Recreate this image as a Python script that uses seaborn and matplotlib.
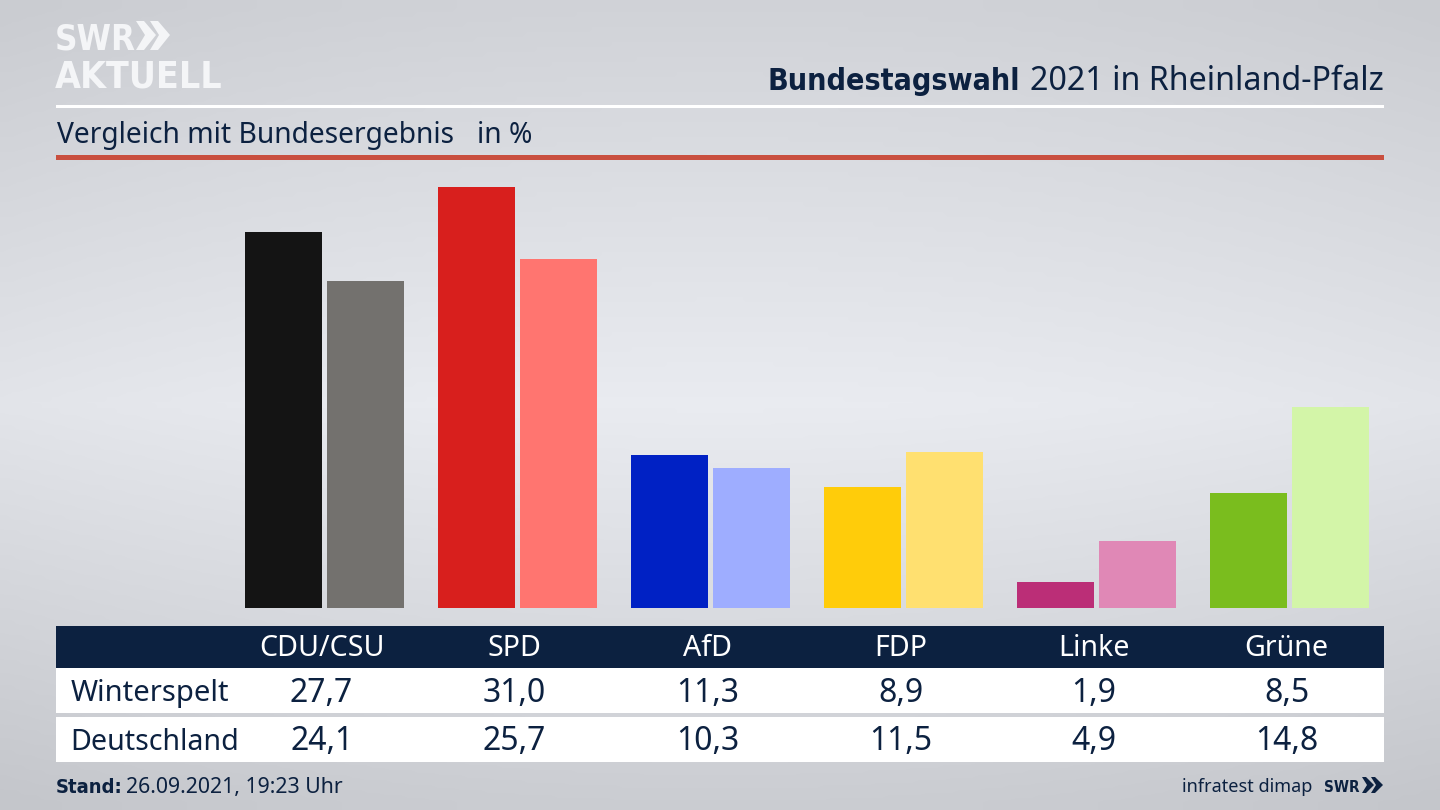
import numpy as np
import pandas as pd
import seaborn as sns
import matplotlib.pyplot as plt
from matplotlib.patches import Rectangle, Polygon
from matplotlib.transforms import blended_transform_factory

parties = ['CDU/CSU', 'SPD', 'AfD', 'FDP', 'Linke', 'Grüne']
winterspelt = [27.7, 31.0, 11.3, 8.9, 1.9, 8.5]
deutschland = [24.1, 25.7, 10.3, 11.5, 4.9, 14.8]
winterspelt_colors = ['#141414', '#d81f1d', '#0021c4', '#ffcc0a', '#bb2e77', '#7abd1e']
deutschland_colors = ['#73716e', '#ff7570', '#9eadff', '#ffe070', '#e088b6', '#d3f5a8']

NAVY = '#0c2140'
LOGO = '#f4f5f7'

sns.set_style('white')
plt.rcParams['font.family'] = ['Noto Sans', 'DejaVu Sans']

df = pd.DataFrame({
    'party': parties * 2,
    'gebiet': ['Winterspelt'] * 6 + ['Deutschland'] * 6,
    'wert': winterspelt + deutschland,
})

fig = plt.figure(figsize=(14.4, 8.1), dpi=100)

# background, works in pixels of the 1440x810 picture
bg = fig.add_axes([0, 0, 1, 1])

yy, xx = np.mgrid[0:1:162j, 0:1:288j]
vert = np.interp(yy, [0, 0.5, 1], [209, 234, 203])
side = 7 * np.abs(2 * xx - 1) ** 2
shade = vert - side
bg.imshow(np.dstack([shade, shade + 2, shade + 7]).clip(0, 255).astype(np.uint8),
          extent=(0, 1440, 810, 0), aspect='auto', interpolation='bicubic', zorder=0)
bg.set_xlim(0, 1440)
bg.set_ylim(810, 0)
bg.axis('off')

# bars
ax = fig.add_axes([228 / 1440, 1 - 608 / 810, 1158 / 1440, 438 / 810])
ax.patch.set_alpha(0)
sns.barplot(data=df, x='party', y='wert', hue='gebiet', hue_order=['Winterspelt', 'Deutschland'],
            order=parties, width=0.85, gap=0.06, legend=False, linewidth=0, ax=ax)
for bar, col in zip(ax.containers[0], winterspelt_colors):
    bar.set_facecolor(col)
for bar, col in zip(ax.containers[1], deutschland_colors):
    bar.set_facecolor(col)
ax.set_xlim(-0.5, 5.5)
ax.set_ylim(0, 438 / 13.58)
ax.set_xlabel('')
ax.set_ylabel('')
ax.set_xticks([])
ax.set_yticks([])
sns.despine(ax=ax, left=True, bottom=True)

# head
bg.add_patch(Rectangle((56, 105), 1328, 2.5, color='white', lw=0))
bg.add_patch(Rectangle((56, 155), 1328, 5, color='#c94f3f', lw=0))
bg.text(1384, 90, '2021 in Rheinland-Pfalz', ha='right', va='baseline', fontsize=23.2, color=NAVY)
bg.text(1020, 90, 'Bundestagswahl', ha='right', va='baseline', fontsize=21.8, color=NAVY,
        fontweight='bold', family='DejaVu Sans', stretch='condensed')
bg.text(57, 143, 'Vergleich mit Bundesergebnis', ha='left', va='baseline', fontsize=20.3, color=NAVY)
bg.text(477, 143, 'in %', ha='left', va='baseline', fontsize=20.3, color=NAVY)

# logo
bg.text(55, 50, 'SWR', ha='left', va='baseline', fontsize=25, color=LOGO, fontweight='bold',
        family='DejaVu Sans', stretch='condensed')
bg.text(55, 87, 'AKTUELL', ha='left', va='baseline', fontsize=26.8, color=LOGO, fontweight='bold',
        family='DejaVu Sans', stretch='condensed')
for x0 in (136, 150):
    bg.add_patch(Polygon([(x0, 21), (x0 + 8, 21), (x0 + 20, 35), (x0 + 8, 50), (x0, 50), (x0 + 9, 35)],
                         color=LOGO, lw=0))

# table
bg.add_patch(Rectangle((56, 626), 1328, 42, color=NAVY, lw=0))
bg.add_patch(Rectangle((56, 668), 1328, 45, color='white', lw=0))
bg.add_patch(Rectangle((56, 717), 1328, 45, color='white', lw=0))
trans = blended_transform_factory(ax.transData, bg.transData)
for i, party in enumerate(parties):
    bg.text(i - 0.015, 648, party, transform=trans, ha='center', va='center', fontsize=20.6, color='white')
    bg.text(i - 0.015, 693, f'{winterspelt[i]:.1f}'.replace('.', ','), transform=trans, ha='center',
            va='center', fontsize=23, color=NAVY)
    bg.text(i - 0.015, 742, f'{deutschland[i]:.1f}'.replace('.', ','), transform=trans, ha='center',
            va='center', fontsize=23, color=NAVY)
bg.text(71, 693, 'Winterspelt', ha='left', va='center', fontsize=21, color=NAVY)
bg.text(70, 742, 'Deutschland', ha='left', va='center', fontsize=20.6, color=NAVY)

# foot
bg.text(56, 793, 'Stand:', ha='left', va='baseline', fontsize=14.5, color=NAVY, fontweight='bold',
        family='DejaVu Sans', stretch='condensed')
bg.text(126, 793, '26.09.2021, 19:23 Uhr', ha='left', va='baseline', fontsize=15.3, color=NAVY)
bg.text(1312, 792, 'infratest dimap', ha='right', va='baseline', fontsize=13, color=NAVY)
bg.text(1324, 792, 'SWR', ha='left', va='baseline', fontsize=11, color=NAVY, fontweight='bold',
        family='DejaVu Sans', stretch='condensed')
for x0 in (1362, 1371):
    bg.add_patch(Polygon([(x0, 777), (x0 + 4, 777), (x0 + 12, 785), (x0 + 4, 793), (x0, 793), (x0 + 5, 785)],
                         color=NAVY, lw=0))

fig.savefig('out.png', dpi=100)
